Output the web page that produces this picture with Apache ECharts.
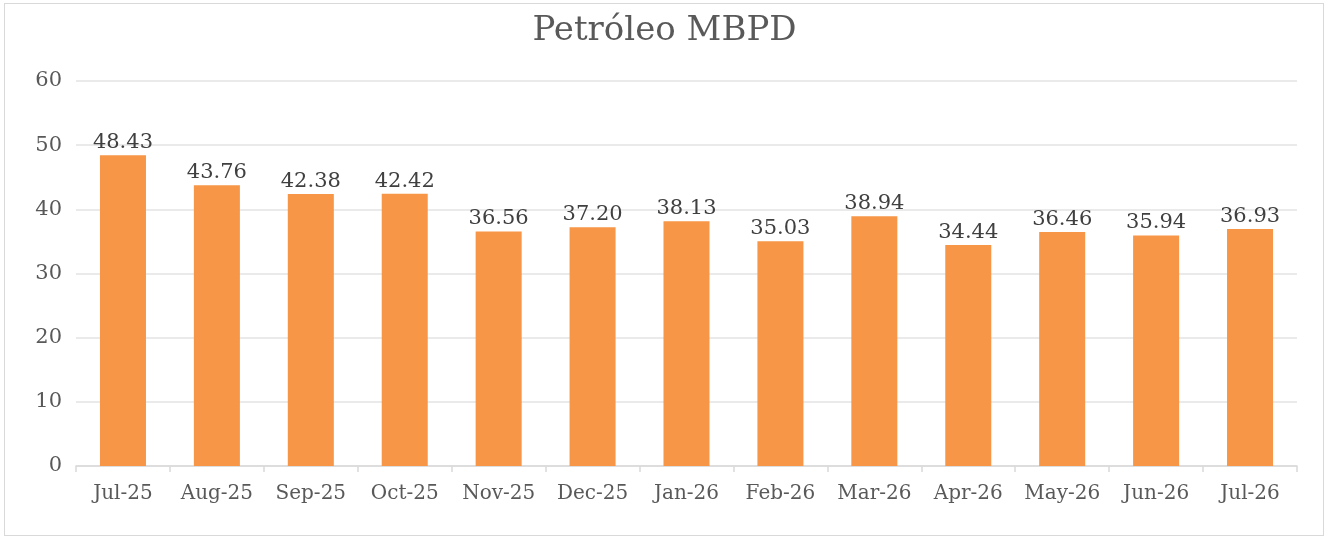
<!DOCTYPE html>
<html><head><meta charset="utf-8">
<script src="https://cdn.jsdelivr.net/npm/echarts@6/dist/echarts.min.js"></script>
<style>html,body{margin:0;padding:0;background:#fff}#c{width:1329px;height:543px;position:relative}
#frame{position:absolute;left:4px;top:3px;width:1320px;height:533px;border:1px solid #d9d9d9;box-sizing:border-box;pointer-events:none}</style>
</head><body><div id="c"></div><div id="frame"></div>
<script>
const categories = ["Jul-25","Aug-25","Sep-25","Oct-25","Nov-25","Dec-25","Jan-26","Feb-26","Mar-26","Apr-26","May-26","Jun-26","Jul-26"];
const values = [48.43,43.76,42.38,42.42,36.56,37.20,38.13,35.03,38.94,34.44,36.46,35.94,36.93];
const titleText = "Petróleo MBPD";
const font = "'DejaVu Serif', 'Liberation Serif', serif";
const chart = echarts.init(document.getElementById('c'));
chart.setOption({
  animation:false,
  title:{text:titleText,left:'center',top:9,textStyle:{fontFamily:font,fontSize:34,fontWeight:'normal',color:'#595959'}},
  grid:{left:76,right:32,top:81,bottom:77,containLabel:false},
  xAxis:{type:'category',data:categories,
    axisLine:{lineStyle:{color:'#d9d9d9',width:1.5}},
    axisTick:{show:true,alignWithLabel:false,interval:0,length:6,lineStyle:{color:'#d9d9d9',width:1.5}},
    axisLabel:{interval:0,hideOverlap:false,fontFamily:font,fontSize:20,color:'#595959',margin:18}},
  yAxis:{type:'value',min:0,max:60,interval:10,
    axisLine:{show:false},axisTick:{show:false},
    splitLine:{lineStyle:{color:'#e3e3e3',width:1.5}},
    axisLabel:{fontFamily:font,fontSize:21,color:'#595959',margin:14}},
  series:[{type:'bar',data:values,barWidth:'49%',itemStyle:{color:'#F79646'},
    label:{show:true,position:'top',distance:2,fontFamily:font,fontSize:21,color:'#404040',
      formatter:p=>p.value.toFixed(2)}}]
});
</script></body></html>
